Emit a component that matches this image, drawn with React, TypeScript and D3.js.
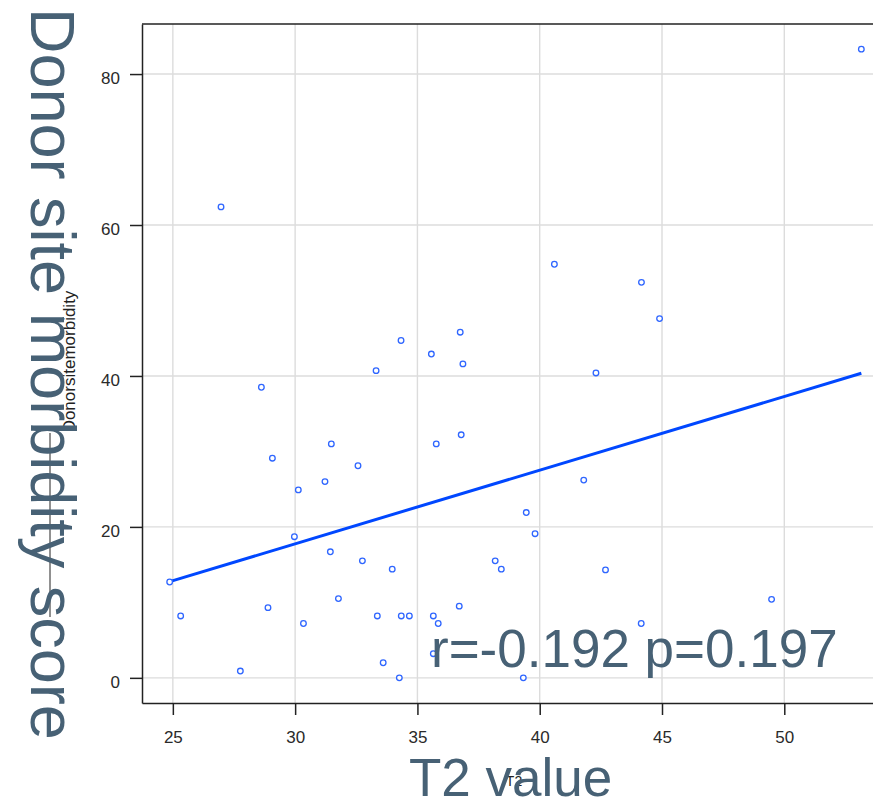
import React, { useEffect, useRef } from 'react';
import * as d3 from 'd3';

// T2 value vs donor site morbidity score
const t2Values = [
  53.15, 26.97, 40.6, 44.16, 44.9, 36.75, 34.33, 35.57, 36.86, 33.31, 42.3, 28.62,
  36.79, 31.48, 35.77, 29.07, 32.57, 41.8, 31.22, 30.13, 39.45, 39.81, 29.97, 31.44,
  24.87, 32.75, 38.18, 33.97, 38.43, 42.69, 36.71, 28.89, 49.48, 31.77, 25.32, 33.36,
  34.34, 34.67, 35.65, 35.85, 30.34, 44.15, 35.65, 33.6, 27.76, 34.26, 39.33,
];
const morbidityScores = [
  83.3, 62.4, 54.8, 52.4, 47.6, 45.8, 44.7, 42.9, 41.6, 40.7, 40.4, 38.5,
  32.2, 31.0, 31.0, 29.1, 28.1, 26.2, 26.0, 24.9, 21.9, 19.1, 18.7, 16.7,
  12.7, 15.5, 15.5, 14.4, 14.4, 14.3, 9.5, 9.3, 10.4, 10.5, 8.2, 8.2,
  8.2, 8.2, 8.2, 7.2, 7.2, 7.2, 3.2, 2.0, 0.9, 0, 0,
];
const xTicks = [25, 30, 35, 40, 45, 50];
const yTicks = [0, 20, 40, 60, 80];

// fitted line (as drawn in the figure)
const fitIntercept = -11.52;
const fitSlope = 0.976;

const statsLabel = 'r=-0.192 p=0.197';
const xTitle = 'T2 value';
const yTitle = 'Donor site morbidity score';
const xVarName = 'T2';
const yVarName = 'Donorsitemorbidity';

const titleColor = '#476175';

const App = () => {
  const svgRef = useRef<SVGSVGElement>(null);

  useEffect(() => {
    const width = 873;
    const height = 804;
    const plot = { left: 142, top: 24, right: 889, bottom: 703 };

    const svg = d3.select(svgRef.current);
    svg.selectAll('*').remove();
    svg.attr('width', width).attr('height', height);

    // R-style 4% padding on the data range
    const [xMin, xMax] = d3.extent(t2Values) as [number, number];
    const [yMin, yMax] = d3.extent(morbidityScores) as [number, number];
    const xPad = (xMax - xMin) * 0.04;
    const yPad = (yMax - yMin) * 0.04;

    const x = d3
      .scaleLinear()
      .domain([xMin - xPad, xMax + xPad])
      .range([plot.left, plot.right]);
    const y = d3
      .scaleLinear()
      .domain([yMin - yPad, yMax + yPad])
      .range([plot.bottom, plot.top]);

    // grid
    const grid = svg.append('g').attr('stroke', '#dcdcdc').attr('stroke-width', 1.4);
    grid
      .selectAll('line.vx')
      .data(xTicks)
      .join('line')
      .attr('x1', (d) => x(d))
      .attr('x2', (d) => x(d))
      .attr('y1', plot.top)
      .attr('y2', plot.bottom);
    grid
      .selectAll('line.hy')
      .data(yTicks)
      .join('line')
      .attr('x1', plot.left)
      .attr('x2', plot.right)
      .attr('y1', (d) => y(d))
      .attr('y2', (d) => y(d));

    // top frame
    svg
      .append('line')
      .attr('x1', plot.left)
      .attr('x2', plot.right)
      .attr('y1', plot.top)
      .attr('y2', plot.top)
      .attr('stroke', '#222')
      .attr('stroke-width', 1.5);

    // axes
    const xAxis = svg
      .append('g')
      .attr('transform', `translate(0,${plot.bottom})`)
      .call(d3.axisBottom(x).tickValues(xTicks).tickSize(12).tickSizeOuter(0).tickPadding(16));
    const yAxis = svg
      .append('g')
      .attr('transform', `translate(${plot.left},0)`)
      .call(d3.axisLeft(y).tickValues(yTicks).tickSize(12).tickSizeOuter(0).tickPadding(10));

    [xAxis, yAxis].forEach((g) => {
      g.select('.domain').attr('stroke', '#222').attr('stroke-width', 1.5);
      g.selectAll('.tick line').attr('stroke', '#222').attr('stroke-width', 1.5);
      g.selectAll('.tick text')
        .attr('fill', '#2a2a2a')
        .style('font-family', '"Liberation Sans", Arial, sans-serif')
        .style('font-size', '17px');
    });
    yAxis.selectAll('.tick text').attr('dy', '0.55em');

    // regression line
    svg
      .append('path')
      .datum([xMin, xMax])
      .attr('fill', 'none')
      .attr('stroke', '#0047ff')
      .attr('stroke-width', 3)
      .attr(
        'd',
        d3
          .line<number>()
          .x((d) => x(d))
          .y((d) => y(fitIntercept + fitSlope * d))
      );

    // points
    svg
      .append('g')
      .selectAll('circle')
      .data(t2Values.map((t, i) => ({ t, s: morbidityScores[i] })))
      .join('circle')
      .attr('cx', (d) => x(d.t))
      .attr('cy', (d) => y(d.s))
      .attr('r', 2.8)
      .attr('fill', 'white')
      .attr('stroke', '#2f66ff')
      .attr('stroke-width', 1.3);

    // original small axis labels, partly hidden under the big ones
    svg
      .append('text')
      .attr('transform', `translate(75,${(plot.top + plot.bottom) / 2 - 2}) rotate(-90)`)
      .attr('text-anchor', 'middle')
      .attr('fill', '#222')
      .style('font-family', '"Liberation Sans Narrow", "Liberation Sans", Arial, sans-serif')
      .style('font-size', '17px')
      .text(yVarName);
    svg
      .append('line')
      .attr('x1', 50)
      .attr('x2', 50)
      .attr('y1', 433)
      .attr('y2', 617)
      .attr('stroke', '#222')
      .attr('stroke-width', 1);
    svg
      .append('text')
      .attr('x', 514)
      .attr('y', 786)
      .attr('text-anchor', 'middle')
      .attr('fill', '#222')
      .style('font-family', '"Liberation Sans", Arial, sans-serif')
      .style('font-size', '14px')
      .text(xVarName);

    // big overlay titles
    const big = (sel: d3.Selection<SVGTextElement, unknown, null, undefined>, size: number) =>
      sel
        .attr('fill', titleColor)
        .style('font-family', '"Liberation Sans", Arial, sans-serif')
        .style('font-size', `${size}px`);

    big(
      svg
        .append('text')
        .attr('transform', 'translate(31,8) rotate(90)')
        .attr('text-anchor', 'start')
        .text(yTitle),
      63
    );
    big(svg.append('text').attr('x', 409).attr('y', 796).text(xTitle), 53);
    big(svg.append('text').attr('x', 431).attr('y', 667).text(statsLabel), 53);
  }, []);

  return (
    <svg
      ref={svgRef}
      style={{ position: 'absolute', left: 0, top: 0, display: 'block', background: 'white' }}
    ></svg>
  );
};

export default App;
